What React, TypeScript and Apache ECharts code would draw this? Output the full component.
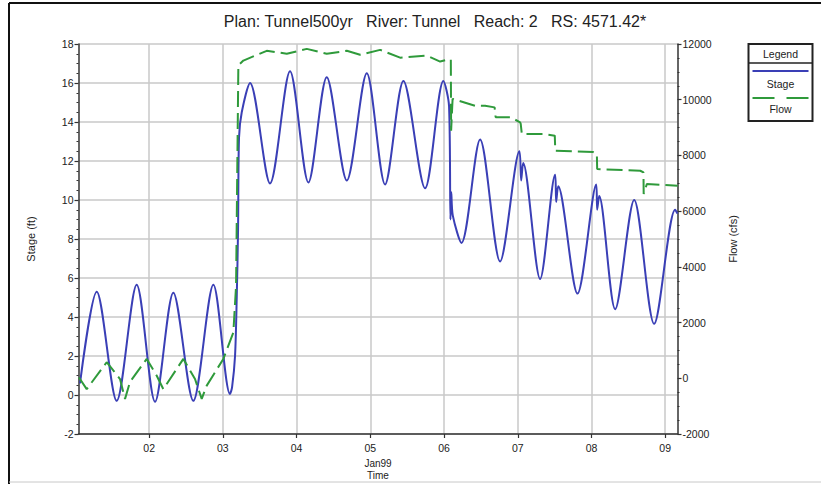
import { useEffect, useRef } from "react";
import * as echarts from "echarts";

const titleText = "Plan: Tunnel500yr   River: Tunnel   Reach: 2   RS: 4571.42*";
const dayTicks = [2, 3, 4, 5, 6, 7, 8, 9];
const dayLabels = ["02", "03", "04", "05", "06", "07", "08", "09"];
const timeName = "Jan99\nTime";

const stageDays = [
  1.062, 1.289, 1.56, 1.831, 2.08, 2.328, 2.599, 2.871, 3.097, 3.125, 3.165, 3.188, 3.206,
  3.219, 3.256, 3.368, 3.64, 3.911, 4.16, 4.409, 4.681, 4.952, 5.2, 5.449, 5.743, 5.991,
  6.068, 6.087, 6.098, 6.119, 6.236, 6.489, 6.76, 7.023, 7.046, 7.073, 7.303, 7.507, 7.521,
  7.548, 7.81, 8.064, 8.077, 8.104, 8.321, 8.579, 8.85, 9.135, 9.167,
];
const stageValues = [
  0.6, 5.3, -0.3, 5.65, -0.35, 5.25, -0.3, 5.65, 0.05, 0.4, 2.0, 5.0, 8.5,
  13.2, 14.5, 16.0, 10.85, 16.6, 10.9, 16.3, 11.0, 16.5, 10.8, 16.1, 10.6, 16.1,
  14.8, 9.0, 10.4, 9.2, 7.8, 13.1, 6.85, 12.5, 11.0, 11.9, 5.95, 11.3, 9.9,
  10.7, 5.2, 10.8, 9.5, 10.2, 4.4, 10.0, 3.65, 9.5, 9.3,
];

const flowDays = [
  1.048, 1.153, 1.424, 1.605, 1.673, 1.74, 1.967, 2.103, 2.192, 2.464, 2.622, 2.713, 2.781,
  3.006, 3.142, 3.179, 3.21, 3.278, 3.595, 3.867, 4.138, 4.409, 4.681, 4.861, 5.133, 5.404,
  5.766, 5.947, 6.046, 6.092, 6.096, 6.116, 6.422, 6.557, 6.686, 6.7, 6.902, 7.032, 7.04,
  7.055, 7.337, 7.502, 7.509, 8.023, 8.073, 8.077, 8.662, 8.705, 8.708, 8.751, 9.169,
];
const flowValues = [
  30, -390, 576, -26, -740, -131, 695, 93, -390, 695, -26, -740, -264,
  695, 1640, 3320, 11230, 11405, 11755, 11650, 11825, 11650, 11755, 11615, 11790, 11510,
  11580, 11370, 11440, 11440, 8890, 10030, 9780, 9780, 9725, 9370, 9370, 9190, 9130,
  8770, 8770, 8710, 8170, 8120, 8050, 7510, 7450, 7390, 6615, 6975, 6910,
];

const FONT = "'Liberation Sans', Arial, sans-serif";
const BLUE = "#3a3fb6";
const GREEN = "#2f9a3b";

export default function App() {
  const ref = useRef<HTMLDivElement>(null);

  useEffect(() => {
    if (!ref.current) return;
    const chart = echarts.init(ref.current, undefined, { renderer: "svg" });
    const stageData = stageDays.map((d, i) => [d, stageValues[i]]);
    const flowData = flowDays.map((d, i) => [d, flowValues[i]]);

    chart.setOption({
      animation: false,
      backgroundColor: "#ffffff",
      textStyle: { fontFamily: FONT },
      title: {
        text: titleText,
        left: 430,
        textAlign: "center",
        top: 8,
        textStyle: { fontSize: 16, fontWeight: "normal", color: "#222", fontFamily: FONT },
      },
      grid: { left: 78.5, right: 143.5, top: 44, bottom: 50, containLabel: false, outerBoundsMode: "none" },
      xAxis: {
        type: "value",
        min: 1.0417,
        max: 9.1667,
        axisLine: { show: true, onZero: false, lineStyle: { color: "#333", width: 1.5 } },
        axisTick: { show: true, customValues: dayTicks, length: 4, lineStyle: { color: "#333", width: 1.2 } },
        axisLabel: {
          customValues: dayTicks,
          formatter: (v: number) => dayLabels[dayTicks.indexOf(Math.round(v))] ?? "",
          fontSize: 10.5,
          color: "#222",
          margin: 8,
          fontFamily: FONT,
        },
        splitLine: { show: true, lineStyle: { color: "#c9c9c9", width: 1.5 } },
        name: timeName,
        nameLocation: "middle",
        nameGap: 23,
        nameTextStyle: { fontSize: 10, color: "#222", lineHeight: 12, fontFamily: FONT },
      },
      yAxis: [
        {
          type: "value",
          min: -2,
          max: 18,
          interval: 2,
          position: "left",
          axisLine: { show: true, onZero: false, lineStyle: { color: "#333", width: 1.5 } },
          axisTick: { show: true, length: 4, lineStyle: { color: "#333", width: 1.2 } },
          minorTick: { show: true, splitNumber: 4, length: 2, lineStyle: { color: "#333" } },
          axisLabel: { fontSize: 10.5, color: "#222", margin: 5, fontFamily: FONT },
          splitLine: { show: true, lineStyle: { color: "#c9c9c9", width: 1.5 } },
          name: "Stage (ft)",
          nameLocation: "middle",
          nameRotate: 90,
          nameGap: 42,
          nameTextStyle: { fontSize: 11, color: "#222", fontFamily: FONT },
        },
        {
          type: "value",
          min: -2000,
          max: 12000,
          interval: 2000,
          position: "right",
          axisLine: { show: true, onZero: false, lineStyle: { color: "#333", width: 1.5 } },
          axisTick: { show: true, length: 4, lineStyle: { color: "#333", width: 1.2 } },
          minorTick: { show: true, splitNumber: 4, length: 2, lineStyle: { color: "#333" } },
          axisLabel: {
            fontSize: 10.5,
            color: "#222",
            margin: 5,
            fontFamily: FONT,
            formatter: (v: number) => String(v),
          },
          splitLine: { show: false },
          name: "Flow (cfs)",
          nameLocation: "middle",
          nameRotate: 90,
          nameGap: 50,
          nameTextStyle: { fontSize: 11, color: "#222", fontFamily: FONT },
        },
      ],
      series: [
        {
          name: "Stage",
          type: "line",
          yAxisIndex: 0,
          data: stageData,
          showSymbol: false,
          smooth: 0.3,
          lineStyle: { color: BLUE, width: 2 },
          itemStyle: { color: BLUE },
          z: 3,
        },
        {
          name: "Flow",
          type: "line",
          yAxisIndex: 1,
          data: flowData,
          showSymbol: false,
          lineStyle: { color: GREEN, width: 2, type: [16, 6] },
          itemStyle: { color: GREEN },
          z: 4,
        },
      ],
      graphic: [
        { type: "line", shape: { x1: 9, y1: 3, x2: 9, y2: 484 }, style: { stroke: "#111", lineWidth: 2 } },
        { type: "line", shape: { x1: 9, y1: 3, x2: 821, y2: 3 }, style: { stroke: "#111", lineWidth: 2 } },
        { type: "line", shape: { x1: 9, y1: 482, x2: 821, y2: 482 }, style: { stroke: "#c8c8c8", lineWidth: 1 } },
        {
          type: "group",
          left: 746,
          top: 43,
          children: [
            { type: "rect", shape: { x: 0, y: 0, width: 64, height: 77 }, style: { fill: "#fff", stroke: "#222", lineWidth: 2 } },
            { type: "text", x: 32, y: 10, style: { text: "Legend", fontSize: 10.5, fill: "#222", align: "center", verticalAlign: "middle", fontFamily: FONT } },
            { type: "line", shape: { x1: 0, y1: 19, x2: 64, y2: 19 }, style: { stroke: "#222", lineWidth: 1.5 } },
            { type: "line", shape: { x1: 4, y1: 27, x2: 60, y2: 27 }, style: { stroke: BLUE, lineWidth: 2 } },
            { type: "text", x: 32, y: 40, style: { text: "Stage", fontSize: 10.5, fill: "#222", align: "center", verticalAlign: "middle", fontFamily: FONT } },
            { type: "line", shape: { x1: 4, y1: 54, x2: 61, y2: 54 }, style: { stroke: GREEN, lineWidth: 2, lineDash: [22, 12] } },
            { type: "text", x: 32, y: 65, style: { text: "Flow", fontSize: 10.5, fill: "#222", align: "center", verticalAlign: "middle", fontFamily: FONT } },
          ],
        },
      ],
    });
    return () => chart.dispose();
  }, []);

  return (
    <div
      ref={ref}
      style={{ position: "fixed", left: 0, top: 0, width: 821, height: 484, background: "#fff" }}
    />
  );
}
